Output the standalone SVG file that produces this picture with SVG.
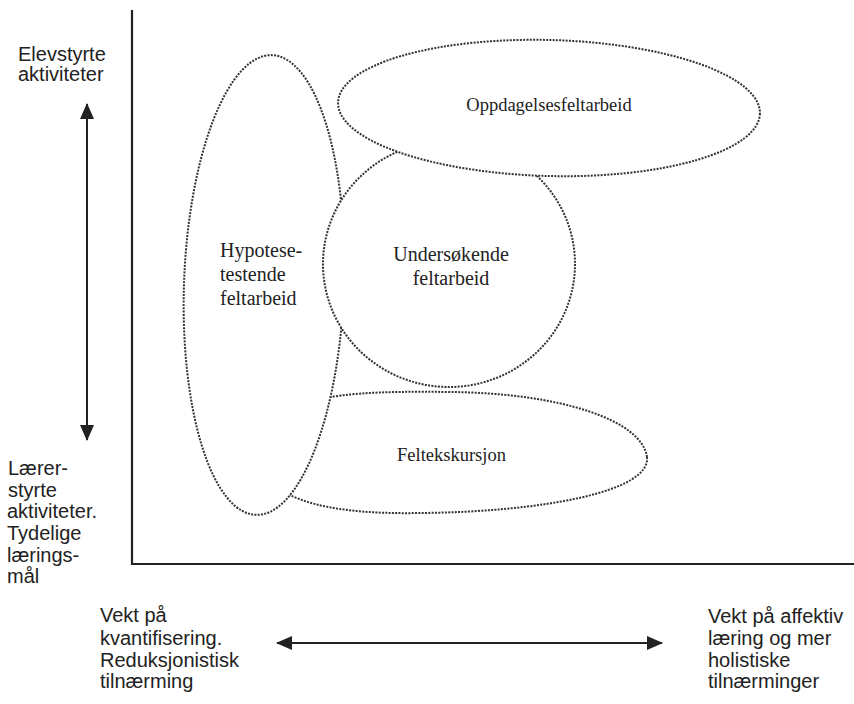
<svg xmlns="http://www.w3.org/2000/svg" width="854" height="704" viewBox="0 0 854 704">
<style>
.sans{font-family:"Liberation Sans",Arial,sans-serif;font-size:20px;fill:#222}
.serif{font-family:"Liberation Serif","Times New Roman",serif;font-size:18.5px;fill:#222}
.dot{fill:#fff;stroke:#333;stroke-width:2;stroke-dasharray:2 1.3}
.ax{stroke:#222;stroke-width:2.2;fill:none}
.arr{stroke:#222;stroke-width:2;fill:none}
</style>
<defs>
<marker id="ah" viewBox="0 0 10 10" refX="9" refY="5" markerWidth="8" markerHeight="8" markerUnits="userSpaceOnUse" orient="auto-start-reverse">
<path d="M0,0 L10,5 L0,10 Z" fill="#222"/>
</marker>
<marker id="ahb" viewBox="0 0 16 14" refX="15" refY="7" markerWidth="16" markerHeight="14" markerUnits="userSpaceOnUse" orient="auto-start-reverse">
<path d="M0,0 L16,7 L0,14 Z" fill="#222"/>
</marker>
</defs>
<rect width="854" height="704" fill="#fff"/>
<g id="axes">
<path class="ax" d="M132,10 L132,564 L854,564"/>
</g>
<g id="connectors">
<line class="arr" x1="87" y1="104" x2="87" y2="440" marker-start="url(#ahb)" marker-end="url(#ahb)"/>
<line class="arr" x1="277" y1="643" x2="662" y2="643" marker-start="url(#ahb)" marker-end="url(#ahb)"/>
</g>
<g id="feltekskursjon">
<path class="dot" d="M647,457 C642,420 560,393 450,392 C380,391 330,393 300,405 C262,422 258,482 290,495 C320,510 370,514 420,513 C540,512 651,492 647,457 Z"/>
<text class="serif" x="397" y="461">Feltekskursjon</text>
</g>
<g id="hypotesetestende">
<ellipse class="dot" cx="264" cy="285" rx="80" ry="230" transform="rotate(2 264 285)"/>
<text class="serif" style="font-size:20px" x="220" y="257">Hypotese-</text>
<text class="serif" style="font-size:20px" x="220" y="281">testende</text>
<text class="serif" style="font-size:20px" x="220" y="305">feltarbeid</text>
</g>
<g id="undersokende">
<ellipse class="dot" cx="449" cy="264" rx="126" ry="123"/>
<text class="serif" style="font-size:20px" x="451" y="261" text-anchor="middle">Undersøkende</text>
<text class="serif" style="font-size:20px" x="451" y="285" text-anchor="middle">feltarbeid</text>
</g>
<g id="oppdagelse">
<ellipse class="dot" cx="549" cy="108" rx="211" ry="68" transform="rotate(1.5 549 108)"/>
<text class="serif" x="549" y="111" text-anchor="middle">Oppdagelsesfeltarbeid</text>
</g>
<g id="labels">
<text class="sans" x="18" y="61">Elevstyrte</text>
<text class="sans" x="18" y="81">aktiviteter</text>
<text class="sans" x="8" y="475">Lærer-</text>
<text class="sans" x="8" y="497">styrte</text>
<text class="sans" x="7" y="518">aktiviteter.</text>
<text class="sans" x="7" y="540">Tydelige</text>
<text class="sans" x="7" y="562">lærings-</text>
<text class="sans" x="7" y="583">mål</text>
<text class="sans" x="100" y="622">Vekt på</text>
<text class="sans" x="100" y="645">kvantifisering.</text>
<text class="sans" x="100" y="667">Reduksjonistisk</text>
<text class="sans" x="100" y="688">tilnærming</text>
<text class="sans" x="708" y="623">Vekt på affektiv</text>
<text class="sans" x="708" y="645">læring og mer</text>
<text class="sans" x="708" y="667">holistiske</text>
<text class="sans" x="708" y="688">tilnærminger</text>
</g>
</svg>
